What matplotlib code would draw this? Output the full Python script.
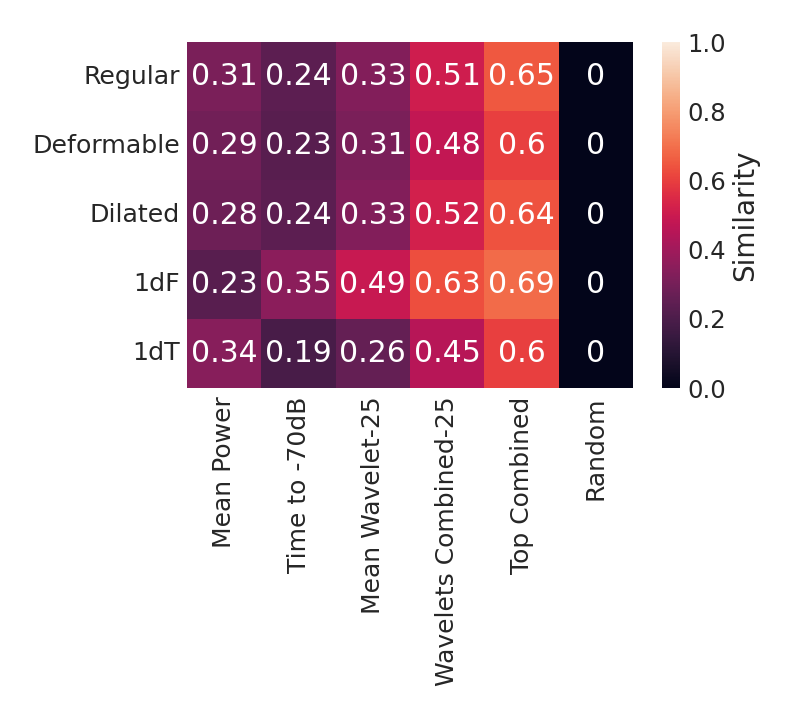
import matplotlib
matplotlib.use("Agg")
import matplotlib.pyplot as plt
import seaborn as sns
import numpy as np

rows = ["Regular", "Deformable", "Dilated", "1dF", "1dT"]
cols = ["Mean Power", "Time to -70dB", "Mean Wavelet-25", "Wavelets Combined-25", "Top Combined", "Random"]
values = [
    [0.31, 0.24, 0.33, 0.51, 0.65, 0],
    [0.29, 0.23, 0.31, 0.48, 0.6, 0],
    [0.28, 0.24, 0.33, 0.52, 0.64, 0],
    [0.23, 0.35, 0.49, 0.63, 0.69, 0],
    [0.34, 0.19, 0.26, 0.45, 0.6, 0],
]

sns.set_theme(style="white")
plt.rcParams['font.family'] = ['DejaVu Sans']
plt.rcParams['text.color'] = '#262626'

fig = plt.figure(figsize=(7.92, 7.2), dpi=100)
ax = fig.add_axes([187/792, 1-388/720, (633-187)/792, (388-42)/720])
cax = fig.add_axes([662/792, 1-388/720, (680-662)/792, (388-42)/720])

sns.heatmap(np.array(values), ax=ax, cbar_ax=cax, cmap="rocket", vmin=0, vmax=1,
            annot=True, fmt="g", annot_kws={"size": 21.5},
            xticklabels=cols, yticklabels=rows,
            cbar_kws={"label": "Similarity"})
ax.tick_params(axis='x', labelsize=18, rotation=90, colors='#262626', length=0, pad=6)
ax.tick_params(axis='y', labelsize=18.2, rotation=0, colors='#262626', length=0, pad=5)
cax.tick_params(labelsize=17.5, colors='#262626', length=0, pad=5)
cax.yaxis.label.set_size(20)
cax.yaxis.label.set_color('#262626')
fig.savefig("out.png", dpi=100)
